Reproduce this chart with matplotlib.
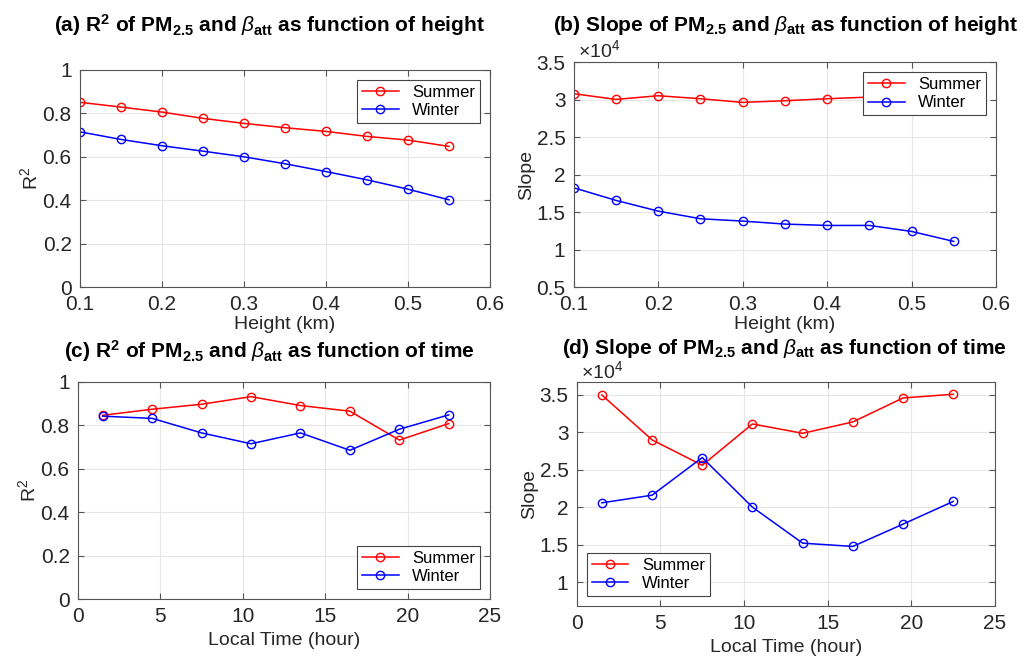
import numpy as np
import matplotlib
matplotlib.use('Agg')
import matplotlib.pyplot as plt
from matplotlib.ticker import FuncFormatter

plt.rcParams['font.family'] = ['Liberation Sans', 'DejaVu Sans']
plt.rcParams['mathtext.fontset'] = 'custom'
plt.rcParams['mathtext.rm'] = 'Liberation Sans'
plt.rcParams['mathtext.it'] = 'Liberation Sans:italic'
plt.rcParams['mathtext.bf'] = 'Liberation Sans:bold'

# data
height = [0.10, 0.15, 0.20, 0.25, 0.30, 0.35, 0.40, 0.45, 0.50, 0.55]
r2_h_summer = [0.851, 0.829, 0.806, 0.777, 0.754, 0.734, 0.717, 0.694, 0.677, 0.648]
r2_h_winter = [0.715, 0.680, 0.651, 0.626, 0.600, 0.568, 0.532, 0.494, 0.451, 0.402]
slope_h_summer = [30780, 30020, 30510, 30110, 29620, 29840, 30110, 30330, 30500, 30200]
slope_h_winter = [18240, 16560, 15130, 14110, 13800, 13400, 13220, 13220, 12420, 11090]

hour = [1.5, 4.5, 7.5, 10.5, 13.5, 16.5, 19.5, 22.5]
r2_t_summer = [0.846, 0.874, 0.897, 0.932, 0.891, 0.865, 0.732, 0.808]
r2_t_winter = [0.842, 0.832, 0.765, 0.715, 0.765, 0.685, 0.782, 0.848]
slope_t_summer = [35000, 29000, 25610, 31130, 29880, 31400, 34600, 35100]
slope_t_winter = [20590, 21610, 26640, 20010, 15200, 14760, 17740, 20770]

titles = [r'(a) R$^\mathbf{2}$ of PM$_\mathbf{2.5}$ and $\beta_\mathbf{att}$ as function of height',
          r'(b) Slope of PM$_\mathbf{2.5}$ and $\beta_\mathbf{att}$ as function of height',
          r'(c) R$^\mathbf{2}$ of PM$_\mathbf{2.5}$ and $\beta_\mathbf{att}$ as function of time',
          r'(d) Slope of PM$_\mathbf{2.5}$ and $\beta_\mathbf{att}$ as function of time']

fig = plt.figure(figsize=(10.3, 6.6), dpi=100)

axes = [fig.add_axes([0.0777, 0.565, 0.398, 0.329]),
        fig.add_axes([0.557, 0.565, 0.41, 0.341]),
        fig.add_axes([0.0757, 0.0924, 0.40, 0.329]),
        fig.add_axes([0.560, 0.0818, 0.406, 0.339])]

title_pos = [(0.262, 0.962), (0.763, 0.962), (0.262, 0.468), (0.762, 0.472)]

dark = '#262626'


def style(ax):
    ax.grid(True, color='#e6e6e6', linewidth=0.8)
    ax.set_axisbelow(True)
    for s in ax.spines.values():
        s.set_color('#555555')
        s.set_linewidth(0.8)
    ax.tick_params(direction='in', top=True, right=True, labelsize=15,
                   colors='#555555', labelcolor=dark, length=4, pad=6)


def draw(ax, x, ys, yw, loc):
    ax.plot(x, ys, '-o', color='red', mfc='none', ms=6, lw=1.1, label='Summer')
    ax.plot(x, yw, '-o', color='blue', mfc='none', ms=6, lw=1.1, label='Winter')
    leg = ax.legend(loc=loc, fontsize=12, fancybox=False, framealpha=1,
                    edgecolor='#444444', borderaxespad=0.6, handlelength=2.2,
                    borderpad=0.3, labelspacing=0.2)
    leg.get_frame().set_linewidth(0.8)
    leg.set_zorder(5)


g = lambda v, p: f'{v:g}'
e4 = lambda v, p: f'{v / 1e4:g}'

ax = axes[0]
draw(ax, height, r2_h_summer, r2_h_winter, 'upper right')
ax.set_xlim(0.1, 0.6)
ax.set_ylim(0, 1)
ax.set_yticks(np.arange(0, 1.01, 0.2))
ax.set_xticks(np.arange(0.1, 0.61, 0.1))
ax.set_ylabel(r'R$^2$', fontsize=14, color=dark, labelpad=1)
ax.set_xlabel('Height (km)', fontsize=14, color=dark, labelpad=1)

ax = axes[1]
draw(ax, height, slope_h_summer, slope_h_winter, 'upper right')
ax.set_xlim(0.1, 0.6)
ax.set_ylim(5000, 35000)
ax.set_yticks(np.arange(5000, 35001, 5000))
ax.set_xticks(np.arange(0.1, 0.61, 0.1))
ax.set_ylabel('Slope', fontsize=14, color=dark, labelpad=1)
ax.set_xlabel('Height (km)', fontsize=14, color=dark, labelpad=1)

ax = axes[2]
draw(ax, hour, r2_t_summer, r2_t_winter, 'lower right')
ax.set_xlim(0, 25)
ax.set_ylim(0, 1)
ax.set_yticks(np.arange(0, 1.01, 0.2))
ax.set_xticks(np.arange(0, 26, 5))
ax.set_ylabel(r'R$^2$', fontsize=14, color=dark, labelpad=1)
ax.set_xlabel('Local Time (hour)', fontsize=14, color=dark)

ax = axes[3]
draw(ax, hour, slope_t_summer, slope_t_winter, 'lower left')
ax.set_xlim(0, 25)
ax.set_ylim(6800, 36700)
ax.set_yticks(np.arange(10000, 35001, 5000))
ax.set_xticks(np.arange(0, 26, 5))
ax.set_ylabel('Slope', fontsize=14, color=dark, labelpad=1)
ax.set_xlabel('Local Time (hour)', fontsize=14, color=dark)

for i, ax in enumerate(axes):
    style(ax)
    ax.xaxis.set_major_formatter(FuncFormatter(g))
    ax.yaxis.set_major_formatter(FuncFormatter(e4 if i in (1, 3) else g))
    fig.text(title_pos[i][0], title_pos[i][1], titles[i], ha='center', va='center',
             fontsize=15, fontweight='bold')

for ax in (axes[1], axes[3]):
    ax.text(0.01, 1.003, r'$\times$10$^4$', transform=ax.transAxes, fontsize=14,
            color=dark, ha='left', va='bottom')

fig.savefig('out.png', dpi=100)
